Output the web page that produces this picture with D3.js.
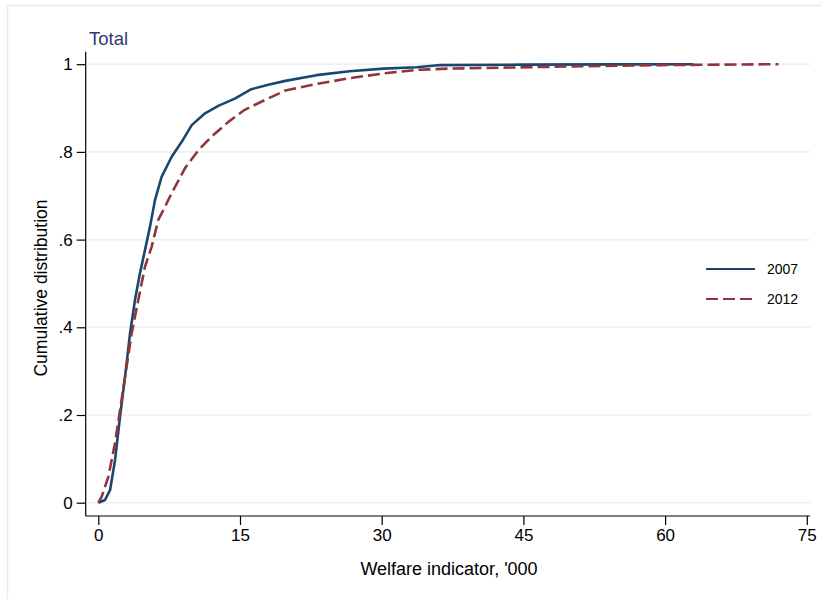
<!DOCTYPE html>
<html>
<head>
<meta charset="utf-8">
<script src="https://cdn.jsdelivr.net/npm/d3@7"></script>
<style>
  body { margin: 0; background: #fff; }
  svg { font-family: "Liberation Sans", Arial, sans-serif; }
</style>
</head>
<body>
<script>
// values (welfare indicator in '000, cumulative share)
var welfare2007 = [0, 0.7, 1.25, 1.77, 2.3, 2.83, 3.36, 3.88, 4.41, 4.94, 5.47, 6.0, 6.7, 7.77, 8.83, 9.89, 11.3, 12.7, 14.5, 16.2, 18.0, 19.8, 23.1, 26.6, 30.2, 33.7, 36.2, 45, 55, 63];
var cdf2007     = [0, 0.006, 0.029, 0.097, 0.196, 0.287, 0.386, 0.462, 0.523, 0.576, 0.629, 0.69, 0.743, 0.789, 0.823, 0.861, 0.888, 0.905, 0.922, 0.943, 0.953, 0.962, 0.975, 0.984, 0.990, 0.993, 0.998, 0.999, 0.9995, 1];
var welfare2012 = [0, 0.36, 1.06, 1.77, 2.3, 2.83, 3.53, 4.23, 4.94, 5.65, 6.35, 7.06, 7.77, 9.18, 10.6, 12.0, 13.8, 15.5, 17.6, 19.8, 23.1, 26.6, 30.2, 33.7, 37.2, 47.8, 59.5, 72];
var cdf2012     = [0, 0.014, 0.059, 0.136, 0.211, 0.287, 0.386, 0.462, 0.538, 0.584, 0.645, 0.675, 0.706, 0.763, 0.804, 0.835, 0.869, 0.896, 0.918, 0.94, 0.955, 0.968, 0.979, 0.987, 0.990, 0.994, 0.998, 1];
var xTicks = [0, 15, 30, 45, 60, 75];
var yTicks = [0, 0.2, 0.4, 0.6, 0.8, 1];
var seriesNames = ["2007", "2012"];

var width = 822, height = 599;

var svg = d3.select("body").append("svg")
  .attr("width", width)
  .attr("height", height);

// outer graph frame
svg.append("rect")
  .attr("x", 7.5).attr("y", 5.5)
  .attr("width", width + 10).attr("height", height + 10)
  .attr("fill", "#fff")
  .attr("stroke", "#e6edf0")
  .attr("stroke-width", 1.5);

var x = d3.scaleLinear().domain([0, 75]).range([98.3, 806.8]);
var y = d3.scaleLinear().domain([0, 1]).range([502.7, 64.2]);

var plotLeft = 85.7, plotRight = 810, plotTop = 51.7, plotBottom = 516;

// gridlines
svg.append("g").selectAll("line")
  .data(yTicks)
  .enter().append("line")
  .attr("x1", plotLeft + 2).attr("x2", plotRight)
  .attr("y1", function(d) { return y(d); })
  .attr("y2", function(d) { return y(d); })
  .attr("stroke", "#eaf1f3")
  .attr("stroke-width", 1.6);

// y axis
var yAxis = d3.axisLeft(y)
  .tickValues(yTicks)
  .tickSize(9)
  .tickPadding(4)
  .tickFormat(function(d) { return d === 0 ? "0" : d === 1 ? "1" : d3.format(".1f")(d).replace(/^0/, ""); });

var gy = svg.append("g")
  .attr("transform", "translate(" + plotLeft + ",0)")
  .call(yAxis);
gy.select(".domain").remove();
gy.append("line")
  .attr("x1", 0).attr("x2", 0)
  .attr("y1", plotTop).attr("y2", plotBottom)
  .attr("stroke", "#000").attr("stroke-width", 1.2);
gy.selectAll(".tick line").attr("stroke", "#000").attr("stroke-width", 1.2);
gy.selectAll(".tick text")
  .attr("font-size", 17)
  .attr("fill", "#000")
  .attr("font-family", "Liberation Sans, Arial, sans-serif");

// x axis
var xAxis = d3.axisBottom(x)
  .tickValues(xTicks)
  .tickSize(9)
  .tickPadding(4);

var gx = svg.append("g")
  .attr("transform", "translate(0," + plotBottom + ")")
  .call(xAxis);
gx.select(".domain").remove();
gx.append("line")
  .attr("x1", plotLeft).attr("x2", plotRight)
  .attr("y1", 0).attr("y2", 0)
  .attr("stroke", "#000").attr("stroke-width", 1.2);
gx.selectAll(".tick line").attr("stroke", "#000").attr("stroke-width", 1.2);
gx.selectAll(".tick text")
  .attr("font-size", 17)
  .attr("fill", "#000")
  .attr("font-family", "Liberation Sans, Arial, sans-serif");

// axis titles
svg.append("text")
  .attr("x", 449).attr("y", 575)
  .attr("text-anchor", "middle")
  .attr("font-size", 18)
  .text("Welfare indicator, '000");

svg.append("text")
  .attr("transform", "translate(47,288) rotate(-90)")
  .attr("text-anchor", "middle")
  .attr("font-size", 17.5)
  .text("Cumulative distribution");

svg.append("text")
  .attr("x", 89).attr("y", 45)
  .attr("font-size", 18.5)
  .attr("fill", "#2f3d6b")
  .text("Total");

// curves
var line = d3.line()
  .x(function(d) { return x(d[0]); })
  .y(function(d) { return y(d[1]); });

var data2007 = welfare2007.map(function(v, i) { return [v, cdf2007[i]]; });
var data2012 = welfare2012.map(function(v, i) { return [v, cdf2012[i]]; });

svg.append("path")
  .datum(data2007)
  .attr("d", line)
  .attr("fill", "none")
  .attr("stroke", "#1a476f")
  .attr("stroke-width", 2.6)
  .attr("stroke-linejoin", "round");

svg.append("path")
  .datum(data2012)
  .attr("d", line)
  .attr("fill", "none")
  .attr("stroke", "#90353b")
  .attr("stroke-width", 2.6)
  .attr("stroke-dasharray", "12,5")
  .attr("stroke-linejoin", "round");

// legend
var legend = svg.append("g");
var legendStyles = [
  { color: "#1a476f", dash: null },
  { color: "#90353b", dash: "12,5" }
];
seriesNames.forEach(function(name, i) {
  var ly = 269 + i * 30;
  legend.append("line")
    .attr("x1", 706).attr("x2", 755)
    .attr("y1", ly).attr("y2", ly)
    .attr("stroke", legendStyles[i].color)
    .attr("stroke-width", 2)
    .attr("stroke-dasharray", legendStyles[i].dash);
  legend.append("text")
    .attr("x", 767).attr("y", ly + 5)
    .attr("font-size", 14)
    .text(name);
});
</script>
</body>
</html>
